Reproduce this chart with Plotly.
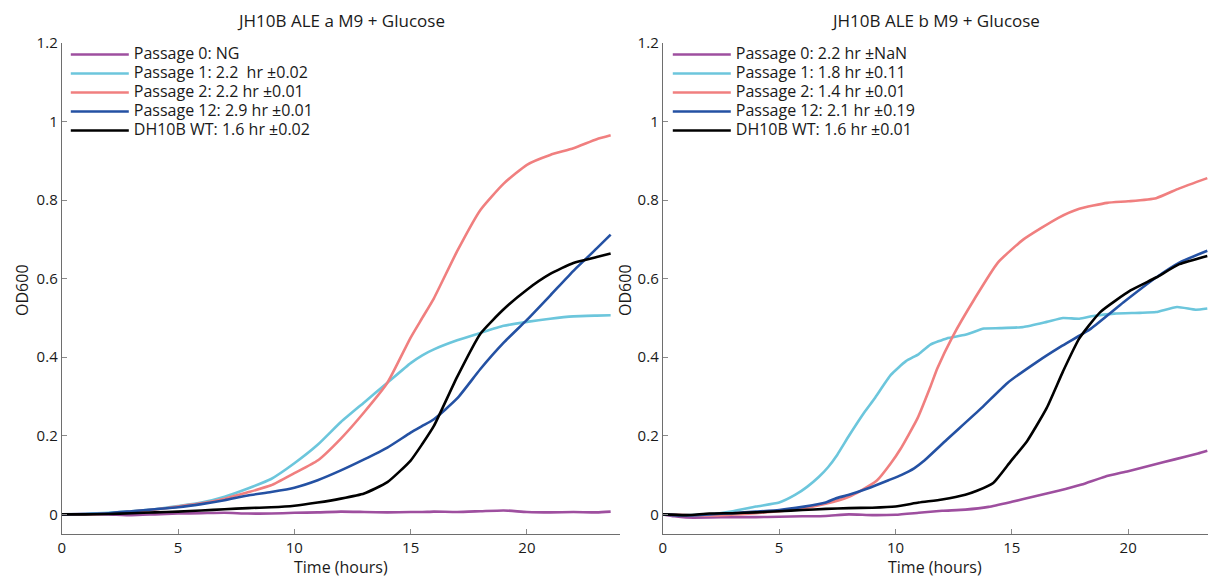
import plotly.graph_objects as go

# ---------------- data ----------------
# Left panel: JH10B ALE a
a_t = [0, 1, 2, 3, 4, 5, 6, 7, 8, 9, 10, 11, 12, 13, 14, 15, 15.5, 16, 17, 18, 19, 20, 21, 22, 23, 23.6]
a_p0 = [0, 0.001, 0.0, -0.002, 0.0, 0.002, 0.003, 0.004, 0.002, 0.002, 0.004, 0.005, 0.007, 0.006,
        0.005, 0.006, 0.006, 0.007, 0.006, 0.008, 0.01, 0.006, 0.005, 0.006, 0.005, 0.007]
a_p1 = [0, 0.001, 0.004, 0.008, 0.013, 0.021, 0.03, 0.045, 0.066, 0.09, 0.13, 0.177, 0.235, 0.285,
        0.335, 0.385, 0.405, 0.42, 0.443, 0.462, 0.48, 0.49, 0.498, 0.504, 0.506, 0.507]
a_p2 = [0, 0.0, 0.002, 0.007, 0.012, 0.02, 0.028, 0.04, 0.056, 0.074, 0.105, 0.137, 0.193, 0.26,
        0.335, 0.45, 0.5, 0.55, 0.67, 0.775, 0.842, 0.89, 0.915, 0.932, 0.955, 0.965]
a_p12 = [0, 0.001, 0.003, 0.008, 0.013, 0.018, 0.026, 0.036, 0.048, 0.057, 0.068, 0.087, 0.112, 0.14,
         0.17, 0.208, 0.225, 0.242, 0.295, 0.37, 0.437, 0.495, 0.557, 0.62, 0.677, 0.712]
a_wt = [0, 0.0, 0.001, 0.003, 0.005, 0.007, 0.01, 0.013, 0.016, 0.018, 0.022, 0.03, 0.04, 0.053,
        0.082, 0.137, 0.179, 0.225, 0.35, 0.46, 0.522, 0.572, 0.612, 0.64, 0.655, 0.664]

# Right panel: JH10B ALE b
b_p0_t = [0, 0.5, 1, 2, 3, 4, 5, 6, 7, 8, 9, 10, 11, 12, 13, 14, 15, 16, 17, 18, 19, 20, 21, 22, 23, 23.4]
b_p0 = [0, -0.005, -0.008, -0.008, -0.007, -0.007, -0.006, -0.005, -0.004, 0.0, -0.002, -0.001, 0.004,
        0.009, 0.012, 0.019, 0.032, 0.046, 0.06, 0.076, 0.096, 0.11, 0.125, 0.14, 0.155, 0.162]
b_p1_t = [0, 1, 2, 3, 4, 5, 5.7, 6.2, 6.7, 7.1, 7.5, 8, 8.7, 9.1, 9.8, 10.45, 11, 11.5, 12.2, 13, 13.8,
          14.5, 15.5, 16.5, 17.2, 17.9, 18.5, 19.4, 20.5, 21.2, 22.1, 22.9, 23.4]
b_p1 = [0, -0.002, 0.0, 0.008, 0.02, 0.03, 0.05, 0.07, 0.095, 0.12, 0.152, 0.2, 0.263, 0.295, 0.355,
        0.39, 0.408, 0.432, 0.448, 0.457, 0.473, 0.474, 0.477, 0.49, 0.5, 0.498, 0.505, 0.511, 0.513,
        0.515, 0.528, 0.521, 0.524]
b_p2_t = [0, 2, 4, 5, 6, 7, 8, 8.5, 9.2, 9.8, 10.2, 10.95, 11.5, 11.8, 12.45, 13.4, 14.4, 15.5, 17,
          17.9, 19.1, 20, 21.2, 22.2, 23.4]
b_p2 = [0, -0.003, 0.003, 0.008, 0.015, 0.027, 0.045, 0.06, 0.086, 0.13, 0.165, 0.245, 0.325, 0.372,
        0.452, 0.549, 0.641, 0.7, 0.755, 0.778, 0.793, 0.797, 0.805, 0.83, 0.856]
b_p12_t = [0, 1, 2, 3, 4, 5, 6, 7, 7.4, 8, 8.8, 9.7, 10.24, 10.8, 11.2, 12.2, 13.7, 14.8, 16.1, 17.1,
           18.4, 19.8, 21.2, 22.2, 23.4]
b_p12 = [0, -0.003, 0.0, 0.003, 0.007, 0.011, 0.019, 0.03, 0.04, 0.05, 0.066, 0.087, 0.1, 0.117,
         0.135, 0.19, 0.271, 0.334, 0.389, 0.427, 0.473, 0.54, 0.603, 0.641, 0.671]
b_wt_t = [0, 1, 2, 3, 4, 5, 6, 7, 8, 9, 10, 11, 12, 13, 13.5, 14.2, 14.95, 15.66, 16.5, 17.2, 17.9,
          18.8, 20.1, 21.2, 22.2, 23.4]
b_wt = [0, -0.002, 0.002, 0.003, 0.005, 0.008, 0.011, 0.014, 0.016, 0.017, 0.02, 0.03, 0.038, 0.05,
        0.06, 0.08, 0.135, 0.187, 0.271, 0.364, 0.448, 0.515, 0.57, 0.603, 0.637, 0.658]

names_a = ["Passage 0: NG", "Passage 1: 2.2  hr \u00b10.02", "Passage 2: 2.2 hr \u00b10.01",
           "Passage 12: 2.9 hr \u00b10.01", "DH10B WT: 1.6 hr \u00b10.02"]
names_b = ["Passage 0: 2.2 hr \u00b1NaN", "Passage 1: 1.8 hr \u00b10.11", "Passage 2: 1.4 hr \u00b10.01",
           "Passage 12: 2.1 hr \u00b10.19", "DH10B WT: 1.6 hr \u00b10.01"]
titles = ["JH10B ALE a M9 + Glucose", "JH10B ALE b M9 + Glucose"]
colors = ["#9e4f9f", "#6cc6dc", "#f07f7f", "#2451a3", "#000000"]

FONT = "Open Sans, Lato, sans-serif"
TXT = "#1a1a1a"
LEG_SIZE = 16


def leg_name(s):
    return '<span style="font-size:%dpx">%s</span>' % (LEG_SIZE, s.replace("  ", "\u00a0 "))


fig = go.Figure()
series_a = [(a_t, a_p0), (a_t, a_p1), (a_t, a_p2), (a_t, a_p12), (a_t, a_wt)]
series_b = [(b_p0_t, b_p0), (b_p1_t, b_p1), (b_p2_t, b_p2), (b_p12_t, b_p12), (b_wt_t, b_wt)]

for (t, y), name, c in zip(series_a, names_a, colors):
    fig.add_trace(go.Scatter(x=t, y=y, mode="lines", name=leg_name(name),
                             line=dict(color=c, width=2.6, shape="spline", smoothing=0.5),
                             xaxis="x", yaxis="y", legend="legend"))
for (t, y), name, c in zip(series_b, names_b, colors):
    fig.add_trace(go.Scatter(x=t, y=y, mode="lines", name=leg_name(name),
                             line=dict(color=c, width=2.6, shape="spline", smoothing=0.5),
                             xaxis="x2", yaxis="y2", legend="legend2"))

W, H = 1208, 579
L1, R1 = 58, 618
L2, R2 = 661, 1208
TOP, BOT = 43, 534

axis_common = dict(showgrid=False, zeroline=False, showline=True, linecolor="#6e6e6e", linewidth=1.2,
                   ticks="inside", ticklen=5, tickcolor="#8a8a8a", mirror=False,
                   tickfont=dict(family=FONT, size=15, color=TXT))

ph = BOT - TOP
fig.update_layout(
    width=W, height=H,
    margin=dict(l=0, r=0, t=TOP, b=H - BOT),
    paper_bgcolor="white", plot_bgcolor="white",
    showlegend=True,
    xaxis=dict(domain=[L1 / W, R1 / W], range=[0, 24], tickvals=[0, 5, 10, 15, 20], anchor="y", **axis_common),
    yaxis=dict(domain=[0, 1], range=[-0.05, 1.2], tickvals=[0, 0.2, 0.4, 0.6, 0.8, 1, 1.2], anchor="x", **axis_common),
    xaxis2=dict(domain=[L2 / W, R2 / W], range=[0, 23.43], tickvals=[0, 5, 10, 15, 20], anchor="y2", **axis_common),
    yaxis2=dict(domain=[0, 1], range=[-0.05, 1.2], tickvals=[0, 0.2, 0.4, 0.6, 0.8, 1, 1.2], anchor="x2", **axis_common),
    legend=dict(x=62 / W, y=1 + 3 / ph, xanchor="left", yanchor="top", bgcolor="rgba(0,0,0,0)",
                font=dict(family=FONT, size=12, color=TXT), tracegroupgap=0, itemwidth=58),
    legend2=dict(x=666 / W, y=1 + 3 / ph, xanchor="left", yanchor="top", bgcolor="rgba(0,0,0,0)",
                 font=dict(family=FONT, size=12, color=TXT), tracegroupgap=0, itemwidth=58),
)

annos = []
for title, (l, r) in zip(titles, [(L1, R1), (L2, R2)]):
    annos.append(dict(text=title, x=(l + r) / 2 / W, y=1 + (TOP - 20) / ph, xref="paper", yref="paper",
                      showarrow=False, xanchor="center", yanchor="middle",
                      font=dict(family=FONT, size=17, color=TXT)))
for xc in [(L1 + R1) / 2, (L2 + R2) / 2]:
    annos.append(dict(text="Time (hours)", x=xc / W, y=-(567 - BOT) / ph, xref="paper", yref="paper",
                      showarrow=False, xanchor="center", yanchor="middle",
                      font=dict(family=FONT, size=16, color=TXT)))
for xc in [18, 623]:
    annos.append(dict(text="OD600", x=xc / W, y=1 - (290 - TOP) / ph, xref="paper", yref="paper",
                      showarrow=False, xanchor="center", yanchor="middle", textangle=-90,
                      font=dict(family=FONT, size=16, color=TXT)))
fig.update_layout(annotations=annos)

fig.write_html("out.html", config={"displayModeBar": False},
               post_script="document.body.style.margin='0';document.body.style.overflow='hidden';")
